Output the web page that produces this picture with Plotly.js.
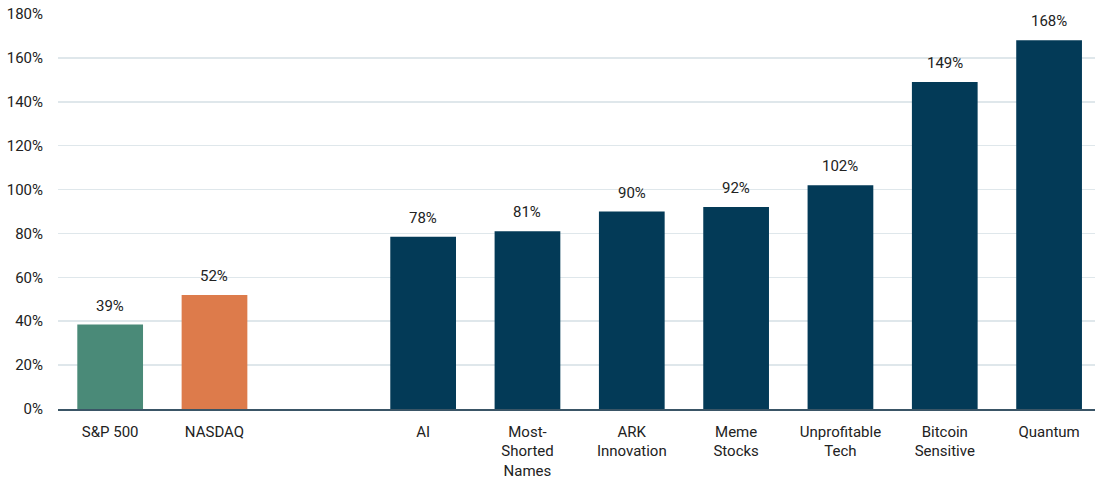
<!DOCTYPE html>
<html><head><meta charset="utf-8">
<script src="https://cdn.plot.ly/plotly-3.0.1.min.js"></script>
<style>html,body{margin:0;padding:0;background:#fff}#c{width:1095px;height:483px}</style>
</head><body><div id="c"></div>
<script>
const categories = ["S&P 500","NASDAQ"," ","AI","Most-<br>Shorted<br>Names","ARK<br>Innovation","Meme<br>Stocks","Unprofitable<br>Tech","Bitcoin<br>Sensitive","Quantum"];
const values = [38.5,52,null,78.5,81,90,92,102,149,168];
const labels = ["39%","52%","","78%","81%","90%","92%","102%","149%","168%"];
const colors = ["#4a8a78","#dd7b4b","#033a57","#033a57","#033a57","#033a57","#033a57","#033a57","#033a57","#033a57"];
const yTicks = [0,20,40,60,80,100,120,140,160,180];

const FONT = "Roboto, sans-serif";
const trace = {
  type:"bar", x:categories, y:values, marker:{color:colors}, hoverinfo:"none"
};
const annotations = categories.map((c,i)=> values[i]==null ? null : ({
  x:c, y:values[i], xref:"x", yref:"y", text:labels[i], showarrow:false,
  yanchor:"bottom", yshift:8, font:{family:FONT,size:15,color:"#222"}
})).filter(a=>a);
const layout = {
  width:1095, height:483, margin:{l:58,r:0,t:14,b:74},
  paper_bgcolor:"#fff", plot_bgcolor:"#fff", showlegend:false, bargap:0.37,
  font:{family:FONT, size:15, color:"#222"},
  annotations:annotations,
  xaxis:{type:"category", range:[-0.5,9.44], showgrid:false, showline:true, linecolor:"#3a5566", linewidth:1.5, ticks:"", ticklabelstandoff:8, tickfont:{size:15,color:"#222"}, fixedrange:true},
  yaxis:{range:[0,180], tickvals:yTicks, ticktext:yTicks.map(v=>v+"%"), showgrid:true, gridcolor:"#dfe7eb", gridwidth:1.5, zeroline:false, showline:false, ticks:"", ticklabelstandoff:14, tickfont:{size:15,color:"#222"}, fixedrange:true}
};
Plotly.newPlot("c",[trace],layout,{displayModeBar:false, staticPlot:true});
</script></body></html>
